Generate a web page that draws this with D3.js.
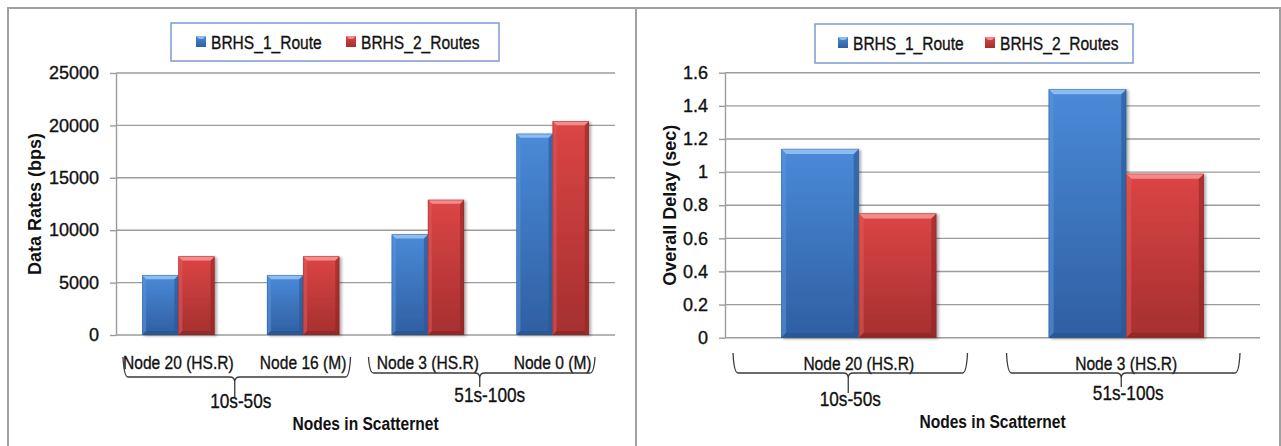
<!DOCTYPE html>
<html>
<head>
<meta charset="utf-8">
<script src="https://cdn.jsdelivr.net/npm/d3@7"></script>
<style>
  html, body { margin: 0; padding: 0; background: #ffffff; }
  svg { display: block; }
  text { font-family: "Liberation Sans", Arial, sans-serif; }
  .heavy { stroke: #111; stroke-width: 0.35px; }
</style>
</head>
<body>
<svg id="chart" width="1281" height="446"></svg>
<script>
// Series shared by both panels
const seriesNames = ["BRHS_1_Route", "BRHS_2_Routes"];

// Panel 1: data rates per node
const rateCategories = ["Node 20 (HS.R)", "Node 16 (M)", "Node 3 (HS.R)", "Node 0 (M)"];
const rateRoute1 = [5700, 5700, 9600, 19200];
const rateRoute2 = [7500, 7500, 12900, 20400];
const rateTicks = [0, 5000, 10000, 15000, 20000, 25000];
const rateIntervals = ["10s-50s", "51s-100s"];
const rateIntervalMembers = [[0, 1], [2, 3]];

// Panel 2: overall delay per node
const delayCategories = ["Node 20 (HS.R)", "Node 3 (HS.R)"];
const delayRoute1 = [1.14, 1.5];
const delayRoute2 = [0.75, 0.99];
const delayTicks = [0, 0.2, 0.4, 0.6, 0.8, 1, 1.2, 1.4, 1.6];
const delayIntervals = ["10s-50s", "51s-100s"];
const delayIntervalMembers = [[0], [1]];

const svg = d3.select("#chart");
const defs = svg.append("defs");

const palette = [
  { top: "#4a8ad8", bottom: "#2f5fa2", bevel: "#8cbcf0", edgeL: "#5a95dc", edgeR: "#2a5590", base: "#274f88" },
  { top: "#dc4545", bottom: "#a52f2f", bevel: "#f58a8a", edgeL: "#e05a5a", edgeR: "#8e2626", base: "#842222" }
];

palette.forEach((p, i) => {
  const g = defs.append("linearGradient").attr("id", "body" + i)
    .attr("x1", 0).attr("y1", 0).attr("x2", 0).attr("y2", 1);
  g.append("stop").attr("offset", "0%").attr("stop-color", p.top);
  g.append("stop").attr("offset", "100%").attr("stop-color", p.bottom);
});

const shadow = defs.append("filter").attr("id", "shadow")
  .attr("x", "-20%").attr("y", "-20%").attr("width", "150%").attr("height", "150%");
shadow.append("feGaussianBlur").attr("in", "SourceAlpha").attr("stdDeviation", 1.5);
shadow.append("feOffset").attr("dx", 2).attr("dy", 1).attr("result", "off");
shadow.append("feComponentTransfer").append("feFuncA").attr("type", "linear").attr("slope", 0.35);
const merge = shadow.append("feMerge");
merge.append("feMergeNode");
merge.append("feMergeNode").attr("in", "SourceGraphic");

// Horizontally condensed text, anchored at (x, y)
const SQUEEZE = 0.82;
function condText(g, x, y, str, size, anchor, weight) {
  return g.append("text")
    .attr("class", weight === "bold" ? null : "heavy")
    .attr("transform", `translate(${x},${y}) scale(${SQUEEZE},1)`)
    .attr("text-anchor", anchor || "start")
    .attr("font-size", size)
    .attr("font-weight", weight || "normal")
    .attr("fill", "#111")
    .text(str);
}

// A bevelled bar: gradient body with a light top facet and shaded sides
function bevelBar(g, x, y, w, h, si, b) {
  const p = palette[si];
  const bar = g.append("g").attr("filter", "url(#shadow)");
  bar.append("rect").attr("x", x).attr("y", y).attr("width", w).attr("height", h)
    .attr("fill", `url(#body${si})`);
  bar.append("path")
    .attr("d", `M${x},${y}L${x + b},${y + b}L${x + b},${y + h - b}L${x},${y + h}Z`)
    .attr("fill", p.edgeL).attr("opacity", 0.55);
  bar.append("path")
    .attr("d", `M${x + w},${y}L${x + w - b},${y + b}L${x + w - b},${y + h - b}L${x + w},${y + h}Z`)
    .attr("fill", p.edgeR).attr("opacity", 0.6);
  bar.append("path")
    .attr("d", `M${x},${y + h}L${x + b},${y + h - b}L${x + w - b},${y + h - b}L${x + w},${y + h}Z`)
    .attr("fill", p.base).attr("opacity", 0.5);
  bar.append("path")
    .attr("d", `M${x},${y}L${x + w},${y}L${x + w - b},${y + b}L${x + b},${y + b}Z`)
    .attr("fill", p.bevel);
  bar.append("rect").attr("x", x + 0.3).attr("y", y + 0.3).attr("width", w - 0.6).attr("height", h - 0.6)
    .attr("fill", "none").attr("stroke", p.edgeR).attr("stroke-width", 0.6).attr("opacity", 0.6);
}

// Curly bracket under a set of categories, with a short stem at its middle
function bracket(g, x0, x1, yTop, yH, stemEnd) {
  const xc = (x0 + x1) / 2 - 2;
  const r = 5;
  g.append("path")
    .attr("d",
      `M${x0},${yTop}Q${x0 + 1},${yH} ${x0 + r},${yH}` +
      `L${xc - r},${yH}Q${xc},${yH} ${xc},${yH + r}L${xc},${stemEnd}` +
      `M${xc},${yH + r}Q${xc},${yH} ${xc + r},${yH}` +
      `L${x1 - r},${yH}Q${x1 - 1},${yH} ${x1},${yTop}`)
    .attr("fill", "none").attr("stroke", "#3a3a3a").attr("stroke-width", 1.3);
}

function drawPanel(cfg) {
  const g = svg.append("g");

  const x = d3.scaleBand().domain(cfg.categories).range([cfg.left, cfg.right]).paddingInner(0.42).paddingOuter(0.21);
  const xs = d3.scaleBand().domain(seriesNames).range([0, x.bandwidth()]);
  const y = d3.scaleLinear().domain([0, d3.max(cfg.ticks)]).range([cfg.bottom, cfg.top]);

  // gridlines
  g.append("g").selectAll("line").data(cfg.ticks).join("line")
    .attr("x1", cfg.left).attr("x2", cfg.right)
    .attr("y1", d => y(d)).attr("y2", d => y(d))
    .attr("stroke", "#9c9c9c").attr("stroke-width", 1.4);

  // value axis
  const axis = d3.axisLeft(y).tickValues(cfg.ticks).tickFormat(d => String(d))
    .tickSizeInner(6).tickSizeOuter(0).tickPadding(11);
  const ag = g.append("g").attr("transform", `translate(${cfg.left},0)`).call(axis);
  ag.select(".domain").attr("stroke", "#9c9c9c").attr("stroke-width", 1.4);
  ag.selectAll(".tick line").attr("stroke", "#9c9c9c").attr("stroke-width", 1.4);
  ag.selectAll(".tick text")
    .attr("class", "heavy")
    .attr("font-family", "'Liberation Sans', Arial, sans-serif")
    .attr("font-size", 18).attr("fill", "#111");

  // bars
  const seriesValues = [cfg.route1, cfg.route2];
  cfg.categories.forEach((c, ci) => {
    seriesValues.forEach((vals, si) => {
      const bx = x(c) + xs(seriesNames[si]);
      const by = y(vals[ci]);
      bevelBar(g, bx, by, xs.bandwidth(), y(0) - by, si, cfg.bevel);
    });
  });

  // category labels
  cfg.categories.forEach(c => {
    condText(g, x(c) + x.bandwidth() / 2, cfg.catY, c, 19, "middle");
  });

  // interval brackets
  cfg.intervals.forEach((label, ii) => {
    const members = cfg.members[ii];
    const first = cfg.categories[members[0]];
    const last = cfg.categories[members[members.length - 1]];
    const bandStart = x(first) - x.step() * x.paddingInner() / 2;
    const bandEnd = x(last) + x.bandwidth() + x.step() * x.paddingInner() / 2;
    const b = cfg.brackets[ii];
    const x0 = bandStart + b.inL, x1 = bandEnd - b.inR;
    bracket(g, x0, x1, b.top, b.h, b.stem);
    condText(g, (x0 + x1) / 2 + b.dx, b.labelY, label, 21, "middle");
  });

  // axis titles
  condText(g, (cfg.left + cfg.right) / 2, cfg.xTitleY, "Nodes in Scatternet", 19, "middle", "bold");
  g.append("text")
    .attr("transform", `translate(${cfg.yTitleX},${(cfg.top + cfg.bottom) / 2}) rotate(-90)`)
    .attr("text-anchor", "middle").attr("font-size", 18).attr("font-weight", "bold").attr("fill", "#111")
    .text(cfg.yTitle);

  // legend
  const L = cfg.legend;
  g.append("rect").attr("x", L.x).attr("y", L.y).attr("width", L.w).attr("height", L.h)
    .attr("fill", "#fff").attr("stroke", "#7a9ccf").attr("stroke-width", 1.5);
  seriesNames.forEach((name, si) => {
    const lx = L.items[si];
    const p = palette[si];
    const sw = g.append("g");
    sw.append("rect").attr("x", lx).attr("y", L.y + 13).attr("width", 10).attr("height", 11)
      .attr("fill", `url(#body${si})`);
    sw.append("path")
      .attr("d", `M${lx},${L.y + 13}L${lx + 10},${L.y + 13}L${lx + 7},${L.y + 16}L${lx + 3},${L.y + 16}Z`)
      .attr("fill", p.bevel);
    condText(g, lx + 15, L.y + 25.5, name, 19, "start");
  });
}

// panel frames
svg.append("rect").attr("x", 8).attr("y", 8).attr("width", 628).attr("height", 460)
  .attr("fill", "none").attr("stroke", "#a0a0a0").attr("stroke-width", 2);
svg.append("rect").attr("x", 636).attr("y", 8).attr("width", 644).attr("height", 460)
  .attr("fill", "none").attr("stroke", "#a0a0a0").attr("stroke-width", 2);

drawPanel({
  categories: rateCategories, route1: rateRoute1, route2: rateRoute2, ticks: rateTicks,
  intervals: rateIntervals, members: rateIntervalMembers,
  left: 116, right: 615, top: 73, bottom: 335, bevel: 4,
  catY: 369, xTitleY: 430, yTitleX: 41, yTitle: "Data Rates (bps)",
  brackets: [
    { inL: 7, inR: 15, top: 357, h: 377, stem: 397, labelY: 408, dx: 4 },
    { inL: 3, inR: 20, top: 357, h: 373, stem: 387, labelY: 402, dx: 8 }
  ],
  legend: { x: 171, y: 23, w: 328, h: 38, items: [196, 346] }
});

drawPanel({
  categories: delayCategories, route1: delayRoute1, route2: delayRoute2, ticks: delayTicks,
  intervals: delayIntervals, members: delayIntervalMembers,
  left: 725, right: 1260, top: 72.7, bottom: 337.7, bevel: 5,
  catY: 370, xTitleY: 428, yTitleX: 676, yTitle: "Overall Delay (sec)",
  brackets: [
    { inL: 8, inR: 25, top: 353, h: 373, stem: 393, labelY: 406, dx: 0 },
    { inL: 14, inR: 20, top: 353, h: 373, stem: 387, labelY: 400, dx: 5 }
  ],
  legend: { x: 815, y: 24, w: 318, h: 39, items: [838, 985] }
});
</script>
</body>
</html>
